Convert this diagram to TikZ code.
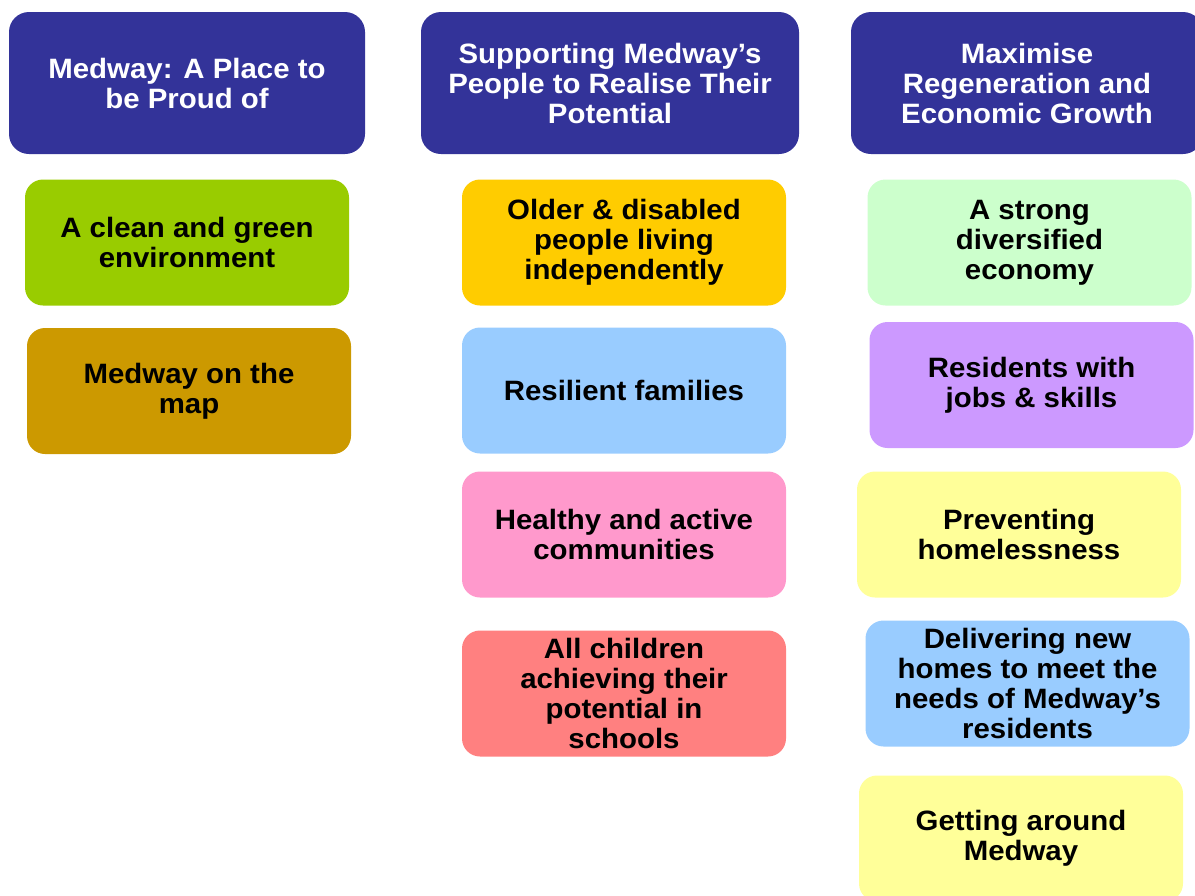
\documentclass[tikz,border=0pt]{standalone}
\usepackage{fontspec}
\setmainfont{Liberation Sans}[FakeStretch=1.05]
\usepackage{tikz}

\definecolor{themeblue}{HTML}{333399}
\definecolor{leafgreen}{HTML}{99CC00}
\definecolor{mapgold}{HTML}{CC9900}
\definecolor{sunorange}{HTML}{FFCC00}
\definecolor{skyblue}{HTML}{99CCFF}
\definecolor{rosepink}{HTML}{FF99CC}
\definecolor{salmonred}{HTML}{FF8080}
\definecolor{mintgreen}{HTML}{CCFFCC}
\definecolor{lilac}{HTML}{CC99FF}
\definecolor{paleyellow}{HTML}{FFFF99}

\tikzset{
  boxfont/.style={font=\fontsize{28}{30}\selectfont\bfseries},
  theme/.style={boxfont, fill=themeblue, text=white, rounded corners=20pt,
    minimum height=142pt, inner sep=0pt, align=center},
  priority/.style={boxfont, fill=#1, text=black, rounded corners=18pt,
    minimum width=324pt, minimum height=126pt, inner sep=0pt, align=center}
}

\begin{document}
\begin{tikzpicture}[x=1pt,y=-1pt]
  \clip (0,0) rectangle (1195,895);

  % themes
  \node[theme,minimum width=356pt] (place) at (187,83) {Medway: A Place to\\be Proud of};
  \node[theme,minimum width=378pt] (people) at (610,83) {Supporting Medway’s\\People to Realise Their\\Potential};
  \node[theme,minimum width=352pt] (growth) at (1027,83) {Maximise\\Regeneration and\\Economic Growth};

  % place
  \node[priority=leafgreen] (green) at (187,242.5) {A clean and green\\environment};
  \node[priority=mapgold] (map) at (189,391) {Medway on the\\map};

  % people
  \node[priority=sunorange] (older) at (624,242.5) {Older \& disabled\\people living\\independently};
  \node[priority=skyblue] (families) at (624,390.5) {Resilient families};
  \node[priority=rosepink] (healthy) at (624,534.5) {Healthy and active\\communities};
  \node[priority=salmonred] (children) at (624,693.5) {All children\\achieving their\\potential in\\schools};

  % growth
  \node[priority=mintgreen] (economy) at (1029.5,242.5) {A strong\\diversified\\economy};
  \node[priority=lilac] (jobs) at (1031.5,385) {Residents with\\jobs \& skills};
  \node[priority=paleyellow] (homeless) at (1019,534.5) {Preventing\\homelessness};
  \node[priority=skyblue] (homes) at (1027.5,683.5) {Delivering new\\homes to meet the\\needs of Medway’s\\residents};
  \node[priority=paleyellow] (around) at (1021,838.5) {Getting around\\Medway};
\end{tikzpicture}
\end{document}
